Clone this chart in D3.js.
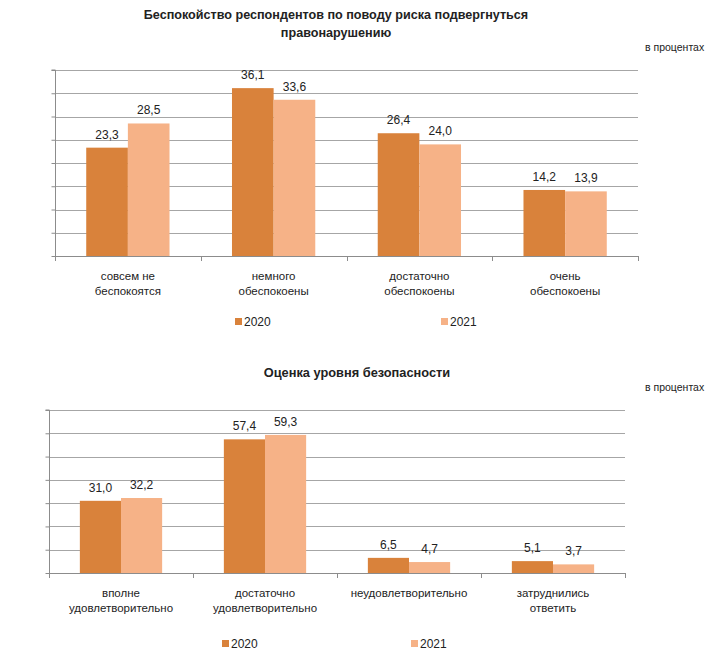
<!DOCTYPE html>
<html>
<head>
<meta charset="utf-8">
<script src="https://cdn.jsdelivr.net/npm/d3@7"></script>
<style>
  html, body { margin: 0; padding: 0; background: #fff; }
  svg { display: block; }
  text { font-family: "Liberation Sans Narrow", "Arial Narrow", "Liberation Sans", Arial, sans-serif; fill: #222; }
</style>
</head>
<body>
<svg id="chart" width="720" height="664"></svg>
<script>
// ---- data ----
const years = ["2020", "2021"];
const colors = ["#D9823B", "#F6B287"];

const worryTitle = ["Беспокойство респондентов по поводу риска подвергнуться", "правонарушению"];
const worryCategories = ["совсем не\nбеспокоятся", "немного\nобеспокоены", "достаточно\nобеспокоены", "очень\nобеспокоены"];
const worry2020 = [23.3, 36.1, 26.4, 14.2];
const worry2021 = [28.5, 33.6, 24.0, 13.9];
const worryTicks = [0, 5, 10, 15, 20, 25, 30, 35, 40];

const safetyTitle = ["Оценка уровня безопасности"];
const safetyCategories = ["вполне\nудовлетворительно", "достаточно\nудовлетворительно", "неудовлетворительно", "затруднились\nответить"];
const safety2020 = [31.0, 57.4, 6.5, 5.1];
const safety2021 = [32.2, 59.3, 4.7, 3.7];
const safetyTicks = [0, 10, 20, 30, 40, 50, 60, 70];

const unitLabel = "в процентах";

const fmt = v => d3.format(".1f")(v).replace(".", ",");
const svg = d3.select("#chart");

function drawChart(o) {
  const g = svg.append("g");
  // title
  o.title.forEach((t, i) => {
    g.append("text").attr("x", o.titleX).attr("y", o.titleY + i * 18)
      .attr("text-anchor", "middle").attr("font-weight", "bold").attr("font-size", o.titleSize)
      .text(t);
  });
  g.append("text").attr("x", 645).attr("y", o.unitY).attr("font-size", 10.5).text(unitLabel);

  const x = d3.scaleBand().domain(o.categories).range([o.x0, o.x1]).paddingInner(0).paddingOuter(0);
  const xs = d3.scaleBand().domain(years).range([0, x.bandwidth()]).paddingInner(0).paddingOuter(0.75);
  const y = d3.scaleLinear().domain([0, d3.max(o.ticks)]).range([o.yBase, o.yTop]);

  // gridlines
  g.append("g").selectAll("line").data(o.ticks.slice(1)).join("line")
    .attr("x1", o.x0).attr("x2", o.x1)
    .attr("y1", d => Math.round(y(d)) + 0.5).attr("y2", d => Math.round(y(d)) + 0.5)
    .attr("stroke", "#A6A6A6").attr("stroke-width", 1);

  // y axis (no labels)
  const ya = d3.axisLeft(y).tickValues(o.ticks).tickSize(4).tickFormat("");
  const yg = g.append("g").attr("transform", `translate(${o.x0 + 0.5},0)`).call(ya);
  yg.selectAll("path, line").attr("stroke", "#8C8C8C");
  yg.select(".domain").attr("d", `M-4,${y(d3.max(o.ticks))}H0V${o.yBase}`);

  // bars
  const series = [o.v2020, o.v2021];
  series.forEach((vals, si) => {
    g.append("g").selectAll("rect").data(vals).join("rect")
      .attr("x", (d, i) => x(o.categories[i]) + xs(years[si]))
      .attr("width", xs.bandwidth())
      .attr("y", d => y(d))
      .attr("height", d => o.yBase - y(d))
      .attr("fill", colors[si]);
    g.append("g").selectAll("text").data(vals).join("text")
      .attr("x", (d, i) => x(o.categories[i]) + xs(years[si]) + xs.bandwidth() / 2)
      .attr("y", d => y(d) - 9)
      .attr("text-anchor", "middle").attr("font-size", 12)
      .text(d => fmt(d));
  });

  // x axis
  const xg = g.append("g");
  xg.append("line").attr("x1", o.x0).attr("x2", o.x1)
    .attr("y1", o.yBase + 0.5).attr("y2", o.yBase + 0.5).attr("stroke", "#8C8C8C");
  const bounds = o.categories.map(c => x(c)).concat([o.x1]);
  xg.selectAll("line.t").data(bounds).join("line").attr("class", "t")
    .attr("x1", d => Math.round(d) + 0.5).attr("x2", d => Math.round(d) + 0.5)
    .attr("y1", o.yBase).attr("y2", o.yBase + 5).attr("stroke", "#8C8C8C");

  // category labels
  o.categories.forEach(c => {
    const lines = c.split("\n");
    const t = g.append("text").attr("text-anchor", "middle").attr("font-size", 11.5);
    lines.forEach((l, i) => {
      t.append("tspan").attr("x", x(c) + x.bandwidth() / 2).attr("y", o.yBase + 24 + i * 15).text(l);
    });
  });

  // legend
  o.legend.forEach((lx, i) => {
    g.append("rect").attr("x", lx).attr("y", o.legendY - 4).attr("width", 7).attr("height", 7).attr("fill", colors[i]);
    g.append("text").attr("x", lx + 9).attr("y", o.legendY + 4).attr("font-size", 12).text(years[i]);
  });
}

drawChart({
  title: worryTitle, titleX: 336, titleY: 19, titleSize: 12.6, unitY: 51,
  categories: worryCategories, v2020: worry2020, v2021: worry2021, ticks: worryTicks,
  x0: 55, x1: 638, yTop: 70, yBase: 256,
  legend: [235, 441], legendY: 322
});

drawChart({
  title: safetyTitle, titleX: 357, titleY: 377, titleSize: 12.8, unitY: 391,
  categories: safetyCategories, v2020: safety2020, v2021: safety2021, ticks: safetyTicks,
  x0: 49, x1: 625, yTop: 410, yBase: 573,
  legend: [222, 411], legendY: 644
});
</script>
</body>
</html>
